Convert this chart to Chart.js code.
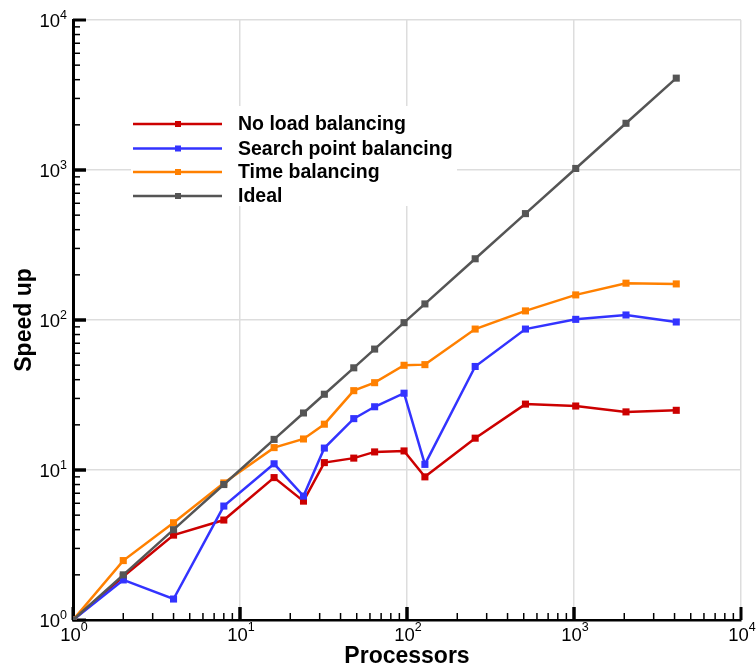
<!DOCTYPE html>
<html>
<head>
<meta charset="utf-8">
<script src="https://cdn.jsdelivr.net/npm/chart.js@4.4.0/dist/chart.umd.min.js"></script>
<style>
  html, body { margin: 0; padding: 0; background: #fff; }
  #wrap { width: 756px; height: 667px; }
</style>
</head>
<body>
<div id="wrap"><canvas id="myChart" width="756" height="667"></canvas></div>
<script>
// data
var processors = [1, 2, 4, 8, 16, 24, 32, 48, 64, 96, 128, 256, 512, 1024, 2048, 4096];
var noBalancing = [1, 1.95, 3.68, 4.64, 8.9, 6.2, 11.2, 12.0, 13.2, 13.4, 9.0, 16.3, 27.5, 26.7, 24.4, 25.0];
var searchBalancing = [1, 1.85, 1.38, 5.75, 11.0, 6.7, 14.0, 22.0, 26.4, 32.5, 10.9, 49, 87, 101, 108, 97];
var timeBalancing = [1, 2.49, 4.45, 8.2, 14.1, 16.1, 20.2, 33.8, 38.2, 49.9, 50.4, 87, 115, 147, 176, 174];
var ideal = [1, 2, 4, 8, 16, 24, 32, 48, 64, 96, 128, 256, 512, 1024, 2048, 4096];

var seriesNames = ['No load balancing', 'Search point balancing', 'Time balancing', 'Ideal'];
var seriesColors = ['#cc0000', '#3333ff', '#ff8000', '#555555'];

var tickValues = [1, 10, 100, 1000, 10000];
var tickBase = '10';
var tickExponents = ['0', '1', '2', '3', '4'];

function pts(ys) {
    var out = [];
    for (var i in ys) {
        out.push({ x: processors[i], y: ys[i] });
    }
    return out;
}

function makeSet(idx, ys, order) {
    return {
        label: seriesNames[idx],
        data: pts(ys),
        borderColor: seriesColors[idx],
        backgroundColor: seriesColors[idx],
        borderWidth: 2.5,
        pointStyle: 'rect',
        pointRadius: 5,
        pointBorderWidth: 0,
        tension: 0,
        order: order
    };
}

// ticks inside the frame, major + minor
var insideTicks = {
    id: 'insideTicks',
    beforeDatasetsDraw: function (chart) {
        var ctx = chart.ctx;
        var xs = chart.scales.x, ys = chart.scales.y;
        var area = chart.chartArea;
        ctx.save();
        ctx.strokeStyle = '#000';
        for (var d = 0; d < 4; d++) {
            for (var m = 1; m <= 10; m++) {
                var v = m * Math.pow(10, d);
                var major = (m === 1 || m === 10);
                var len = major ? 13 : 7;
                ctx.lineWidth = major ? 3 : 1.5;
                var px = xs.getPixelForValue(v);
                ctx.beginPath();
                ctx.moveTo(px, area.bottom);
                ctx.lineTo(px, area.bottom - len);
                ctx.stroke();
                var py = ys.getPixelForValue(v);
                ctx.beginPath();
                ctx.moveTo(area.left, py);
                ctx.lineTo(area.left + len, py);
                ctx.stroke();
            }
        }
        ctx.restore();
    },
    afterDraw: function (chart) {
        // power-of-ten labels with superscripts
        var ctx = chart.ctx;
        var xs = chart.scales.x, ys = chart.scales.y;
        var area = chart.chartArea;
        var baseFont = '18.5px "Liberation Sans", Arial, sans-serif';
        var expFont = '12.5px "Liberation Sans", Arial, sans-serif';
        ctx.save();
        ctx.fillStyle = '#000';
        ctx.textBaseline = 'alphabetic';
        ctx.textAlign = 'left';
        for (var i = 0; i < tickValues.length; i++) {
            ctx.font = baseFont;
            var wb = ctx.measureText(tickBase).width;
            ctx.font = expFont;
            var we = ctx.measureText(tickExponents[i]).width;

            var px = xs.getPixelForValue(tickValues[i]);
            var sx = px - (wb + we) / 2 + 1;
            ctx.font = baseFont;
            ctx.fillText(tickBase, sx, area.bottom + 20.5);
            ctx.font = expFont;
            ctx.fillText(tickExponents[i], sx + wb, area.bottom + 11);

            var py = ys.getPixelForValue(tickValues[i]);
            var ex = area.left - 6 - we;
            ctx.font = baseFont;
            ctx.fillText(tickBase, ex - wb, py + 7);
            ctx.font = expFont;
            ctx.fillText(tickExponents[i], ex, py - 1.5);
        }
        ctx.restore();
    }
};

var boxLegend = {
    id: 'boxLegend',
    afterDatasetsDraw: function (chart) {
        var ctx = chart.ctx;
        ctx.save();
        ctx.fillStyle = '#fff';
        ctx.fillRect(131, 106, 326, 100);
        var rows = [124, 148.5, 172, 196];
        ctx.font = 'bold 19.5px "Liberation Sans", Arial, sans-serif';
        ctx.textBaseline = 'middle';
        for (var i = 0; i < seriesNames.length; i++) {
            var y = rows[i];
            ctx.strokeStyle = seriesColors[i];
            ctx.lineWidth = 2.5;
            ctx.beginPath();
            ctx.moveTo(133, y);
            ctx.lineTo(222, y);
            ctx.stroke();
            ctx.fillStyle = seriesColors[i];
            ctx.fillRect(175, y - 3, 6, 6);
            ctx.fillStyle = '#000';
            ctx.fillText(seriesNames[i], 238, y + 1);
        }
        ctx.restore();
    }
};

document.addEventListener('DOMContentLoaded', function () {

    var chartdata = {
        datasets: [
            makeSet(0, noBalancing, 4),
            makeSet(1, searchBalancing, 3),
            makeSet(2, timeBalancing, 2),
            makeSet(3, ideal, 1)
        ]
    };

    var ctx = document.getElementById("myChart");

    var speedChart = new Chart(ctx, {
        type: 'line',
        data: chartdata,
        plugins: [insideTicks, boxLegend],
        options: {
            responsive: false,
            animation: false,
            layout: { padding: { top: 20, right: 15, left: 0, bottom: 0 } },
            plugins: {
                legend: { display: false },
                tooltip: { enabled: false }
            },
            scales: {
                x: {
                    type: 'logarithmic',
                    min: 1,
                    max: 10000,
                    afterBuildTicks: function (scale) {
                        scale.ticks = tickValues.map(function (v) { return { value: v }; });
                    },
                    afterFit: function (scale) { scale.height = 47; },
                    ticks: { display: false },
                    grid: { color: '#dddddd', lineWidth: 1.5, drawTicks: false },
                    border: { display: true, color: '#000', width: 2.5 },
                    title: {
                        display: true,
                        text: 'Processors',
                        color: '#000',
                        padding: 0,
                        font: { family: '"Liberation Sans", Arial, sans-serif', size: 23, weight: 'bold', lineHeight: 0.9 }
                    }
                },
                y: {
                    type: 'logarithmic',
                    min: 1,
                    max: 10000,
                    afterBuildTicks: function (scale) {
                        scale.ticks = tickValues.map(function (v) { return { value: v }; });
                    },
                    afterFit: function (scale) { scale.width = 73; },
                    ticks: { display: false },
                    grid: { color: '#dddddd', lineWidth: 1.5, drawTicks: false },
                    border: { display: true, color: '#000', width: 3 },
                    title: {
                        display: true,
                        text: 'Speed up',
                        color: '#000',
                        padding: { top: 13, bottom: 0 },
                        font: { family: '"Liberation Sans", Arial, sans-serif', size: 23, weight: 'bold', lineHeight: 1 }
                    }
                }
            }
        }
    });
});
</script>
</body>
</html>
